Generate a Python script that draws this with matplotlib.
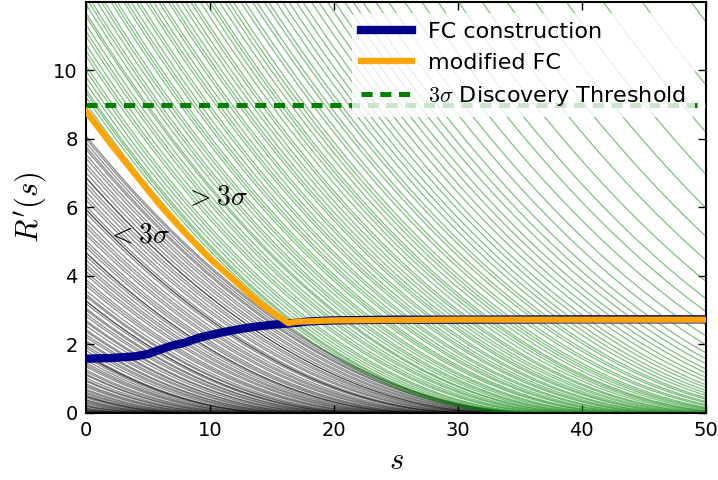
import numpy as np
import matplotlib
matplotlib.use('Agg')
import matplotlib.pyplot as plt

# effective background of the two groups of pseudo-experiments
bkg_black = 130.0
bkg_green = 100.0

# fitted signal of each pseudo-experiment (where its curve reaches zero)
black_s0 = [0.4, 0.7, 1.1, 1.3, 1.8, 2.2, 2.5, 2.9, 3.4, 3.6, 4.0, 4.3, 4.9, 5.2, 5.4,
            5.9, 6.3, 6.6, 7.0, 7.2, 7.7, 8.1, 8.1, 8.4, 8.8, 9.1, 9.5, 9.8, 10.3, 10.6,
            10.9, 11.4, 11.6, 12.0, 12.5, 12.7, 13.1, 13.4, 13.9, 14.2, 14.5, 14.9, 15.3,
            15.6, 15.6, 15.8, 16.3, 16.7, 17.0, 17.4, 17.6, 18.1, 18.4, 18.8, 19.0, 19.5,
            19.9, 20.1, 20.6, 20.9, 21.3, 21.5, 22.0, 22.3, 22.3, 22.8, 23.0, 23.4, 23.9,
            24.2, 24.5, 25.0, 25.3, 25.7, 26.0, 26.4, 26.8, 27.1, 27.1, 27.6, 27.9, 28.2,
            28.7, 29.0, 29.4, 29.7, 30.1, 30.6, 30.9, 30.9, 31.2, 31.7, 32.0, 32.4, 32.8,
            33.1, 33.5, 33.5, 33.9, 34.3, 34.6, 35.0, 35.3, 35.7, 35.9, 36.2, 36.5, 36.7]

green_s0 = [34.9, 35.3, 35.6, 35.8, 36.2, 36.6, 37.0, 37.3, 37.9, 38.2, 38.6, 39.1, 39.4,
            39.8, 40.3, 40.5, 41.0, 41.4, 41.7, 42.2, 42.6, 42.9, 43.5, 43.8, 44.1, 44.7,
            45.0, 45.4, 45.9, 46.2, 46.8, 47.1, 47.5, 48.0, 48.3, 48.9, 49.2, 49.6, 50.1,
            50.5, 51.0, 51.3, 51.9, 52.4, 52.8, 53.1, 53.7, 54.2, 54.6, 55.0, 55.7, 56.1,
            56.8, 57.2, 57.9, 58.3, 59.0, 59.6, 60.2, 60.9, 61.5, 62.3, 63.0, 63.8, 64.5,
            65.4, 66.2, 67.1, 68.3, 69.5, 71.0, 72.6, 74.1, 76.0, 78.2, 80.5, 83.1, 86.0,
            89.4, 93.0, 97.5]

# critical values
fc_s = [0, 2, 4, 5, 6, 7, 8, 9, 10, 11, 12, 13, 14, 15, 16, 17, 18, 20, 25, 30, 40, 50]
fc_r = [1.58, 1.60, 1.65, 1.72, 1.85, 1.97, 2.05, 2.18, 2.27, 2.35, 2.42, 2.48, 2.53,
        2.57, 2.60, 2.63, 2.67, 2.70, 2.72, 2.72, 2.73, 2.73]

mod_s = [0, 2, 4, 6, 8, 10, 12, 14, 16.3, 17, 20, 30, 50]
mod_r = [8.80, 7.85, 6.95, 6.05, 5.25, 4.50, 3.85, 3.20, 2.62, 2.66, 2.70, 2.72, 2.72]

threshold = 9.0

plt.rcParams['mathtext.fontset'] = 'cm'
plt.rcParams['font.family'] = 'DejaVu Sans'
plt.rcParams['lines.scale_dashes'] = False
plt.rcParams['xtick.direction'] = 'in'
plt.rcParams['ytick.direction'] = 'in'
plt.rcParams['xtick.top'] = True
plt.rcParams['ytick.right'] = True


def ratio(s, s0, b):
    r = (s0 - s) ** 2 / (s0 + b)
    return np.where(s < s0, r, 0.0)


fig = plt.figure(figsize=(7.18, 4.8), dpi=100)
ax = fig.add_axes([0.12, 0.14, 0.863, 0.856])

s = np.linspace(0, 50, 400)
for s0 in black_s0:
    ax.plot(s, ratio(s, s0, bkg_black), color='black', alpha=0.45, lw=0.9)
for s0 in green_s0:
    ax.plot(s, ratio(s, s0, bkg_green), color='green', alpha=0.5, lw=0.9)

ax.plot([0, 50], [threshold, threshold], color='green', lw=3.6, dashes=(8, 5.5),
        label=r'$3\sigma$ Discovery Threshold', zorder=5)
ax.plot(fc_s, fc_r, color='#00008b', lw=6, label='FC construction', zorder=6)
ax.plot(mod_s, mod_r, color='orange', lw=4.5, label='modified FC', zorder=7)

ax.text(1.7, 5.22, r'$<3\sigma$', fontsize=20, va='center')
ax.text(8.0, 6.3, r'$>3\sigma$', fontsize=20, va='center')

ax.set_xlim(0, 50)
ax.set_ylim(0, 12)
ax.set_yticks([0, 2, 4, 6, 8, 10])
ax.set_xlabel(r'$s$', fontsize=22)
ax.set_ylabel(r"$R'(s)$", fontsize=22)
ax.tick_params(labelsize=14, length=6, width=1, pad=6)
for sp in ax.spines.values():
    sp.set_linewidth(1.5)

h, l = ax.get_legend_handles_labels()
order = [1, 2, 0]
leg = ax.legend([h[i] for i in order], [l[i] for i in order], loc='upper right',
                fontsize=16, handlelength=2.3, handletextpad=0.7, labelspacing=0.5,
                framealpha=0.8, borderaxespad=0.5)
leg.get_frame().set_edgecolor('none')

fig.savefig('out.png', dpi=100)
